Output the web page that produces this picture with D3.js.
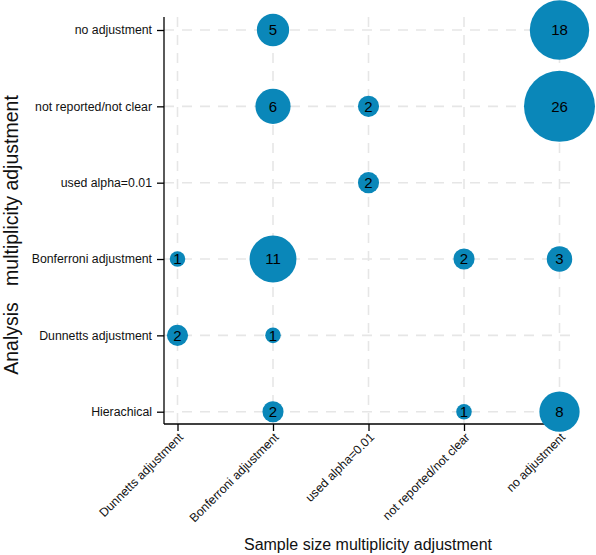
<!DOCTYPE html>
<html>
<head>
<meta charset="utf-8">
<script src="https://cdn.jsdelivr.net/npm/d3@7"></script>
<style>
  html, body { margin: 0; padding: 0; background: #fff; }
  svg { display: block; font-family: "Liberation Sans", Arial, Helvetica, sans-serif; }
</style>
</head>
<body>
<svg id="chart" width="596" height="555"></svg>
<script>
// Categories
const xCategories = ["Dunnetts adjustment", "Bonferroni adjustment", "used alpha=0.01", "not reported/not clear", "no adjustment"];
const yCategories = ["no adjustment", "not reported/not clear", "used alpha=0.01", "Bonferroni adjustment", "Dunnetts adjustment", "Hierachical"];
// Data: sample size adjustment (x), analysis adjustment (y), count
const pointX = ["Bonferroni adjustment", "no adjustment", "Bonferroni adjustment", "used alpha=0.01", "no adjustment", "used alpha=0.01", "Dunnetts adjustment", "Bonferroni adjustment", "not reported/not clear", "no adjustment", "Dunnetts adjustment", "Bonferroni adjustment", "Bonferroni adjustment", "not reported/not clear", "no adjustment"];
const pointY = ["no adjustment", "no adjustment", "not reported/not clear", "not reported/not clear", "not reported/not clear", "used alpha=0.01", "Bonferroni adjustment", "Bonferroni adjustment", "Bonferroni adjustment", "Bonferroni adjustment", "Dunnetts adjustment", "Dunnetts adjustment", "Hierachical", "Hierachical", "Hierachical"];
const pointCount = [5, 18, 6, 2, 26, 2, 1, 11, 2, 3, 2, 1, 2, 1, 8];

const xTitle = "Sample size multiplicity adjustment";
const yTitle = "Analysis\u00a0\u00a0\u00a0multiplicity adjustment";

const svg = d3.select("#chart");
const pLeft = 164, pRight = 572, pTop = 17, pBottom = 424;
const FONT = "\"Liberation Sans\", Arial, Helvetica, sans-serif";

const x = d3.scalePoint().domain(xCategories).range([177.5, 559.5]);
const y = d3.scalePoint().domain(yCategories).range([30, 411.7]);
const r = d3.scalePow().exponent(0.5).domain([0, 26]).range([1, 35.5]);

// Grid
const grid = svg.append("g");
grid.selectAll("line.h").data(yCategories).join("line")
  .attr("x1", pLeft).attr("x2", pRight)
  .attr("y1", d => y(d)).attr("y2", d => y(d))
  .attr("stroke", "#e6e6e6").attr("stroke-width", 1.6).attr("stroke-dasharray", "10,8");
grid.selectAll("line.v").data(xCategories).join("line")
  .attr("y1", pTop).attr("y2", pBottom)
  .attr("x1", d => x(d)).attr("x2", d => x(d))
  .attr("stroke", "#e6e6e6").attr("stroke-width", 1.6).attr("stroke-dasharray", "10,8");

// Axes
const yAxis = svg.append("g").attr("transform", `translate(${pLeft},0)`)
  .call(d3.axisLeft(y).tickSize(7).tickPadding(5));
yAxis.attr("font-family", FONT).attr("font-size", 12.3);
yAxis.select(".domain").attr("d", `M0,${pTop}V${pBottom}`).attr("stroke", "#000").attr("stroke-width", 1.3);
yAxis.selectAll(".tick line").attr("stroke", "#000").attr("stroke-width", 1.3);
yAxis.selectAll(".tick text").attr("fill", "#111");

const xAxis = svg.append("g").attr("transform", `translate(0,${pBottom})`)
  .call(d3.axisBottom(x).tickSize(7).tickPadding(4));
xAxis.attr("font-family", FONT).attr("font-size", 12.3);
xAxis.select(".domain").attr("d", `M${pLeft},0H${pRight}`).attr("stroke", "#000").attr("stroke-width", 1.3);
xAxis.selectAll(".tick line").attr("stroke", "#000").attr("stroke-width", 1.3);
xAxis.selectAll(".tick text").attr("fill", "#111")
  .attr("text-anchor", "end")
  .attr("y", 0).attr("dy", null)
  .attr("transform", "translate(6,14) rotate(-45)");

// Bubbles
const pts = pointCount.map((c, i) => ({ xv: pointX[i], yv: pointY[i], c }));
const bub = svg.append("g");
bub.selectAll("circle").data(pts).join("circle")
  .attr("cx", d => x(d.xv)).attr("cy", d => y(d.yv)).attr("r", d => r(d.c))
  .attr("fill", "#0a87b9");
bub.selectAll("text").data(pts).join("text")
  .attr("x", d => x(d.xv)).attr("y", d => y(d.yv)).attr("dy", "0.36em")
  .attr("text-anchor", "middle").attr("font-size", 15).attr("fill", "#000")
  .text(d => d.c);

// Titles
svg.append("text").attr("x", 368).attr("y", 550).attr("text-anchor", "middle")
  .attr("font-size", 16).attr("fill", "#111").text(xTitle);
svg.append("text").attr("transform", "translate(18,235) rotate(-90)").attr("text-anchor", "middle")
  .attr("font-size", 19.5).attr("fill", "#111").text(yTitle);
</script>
</body>
</html>
